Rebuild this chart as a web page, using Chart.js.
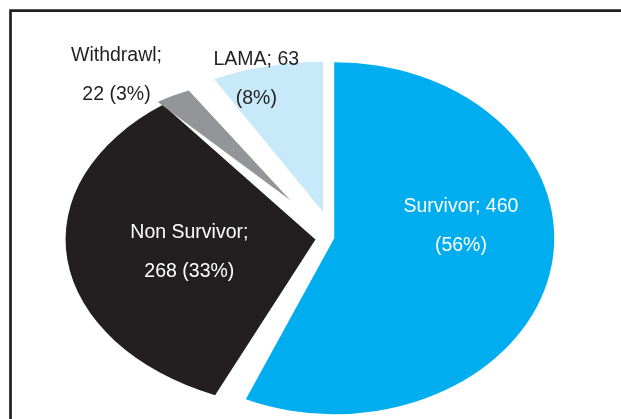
<!DOCTYPE html>
<html>
<head>
<meta charset="utf-8">
<title>Patient outcome</title>
<script src="https://cdn.jsdelivr.net/npm/chart.js@4.4.1/dist/chart.umd.min.js"></script>
<style>
    html, body { margin: 0; padding: 0; background: #fff; }
    canvas { display: block; }
</style>
</head>
<body>
<canvas id="outcome-chart" width="621" height="419"></canvas>
<script>
// --- Data ---
const categories = ['Survivor', 'Non Survivor', 'Withdrawl', 'LAMA'];
const patientCounts = [460, 268, 22, 63];
const percentLabels = ['56%', '33%', '3%', '8%'];

// --- Styling ---
const sliceColors = ['#00aeef', '#231f20', '#939598', '#c7e9f9'];
const textColors = ['#ffffff', '#ffffff', '#231f20', '#231f20'];
const breakAfterName = [false, true, true, false]; // where the label wraps
const explode = [1, 12, 45, 27];                   // px each slice is pulled out
const stretch = [1.25, 1.47, 1.75, 1.55];          // horizontal stretch per slice
const reach = [1, 0.966, 0.705, 0.852];            // radius relative to the pie radius
const labelDist = [0.58, 0.51, 1.29, 0.93];        // label distance, in slice radii
const labelTurn = [-18.6, -1.3, -5.6, -4];         // label angle nudge, degrees

const chartCenter = (chart) => {
    const a = chart.chartArea;
    return { x: (a.left + a.right) / 2, y: (a.top + a.bottom) / 2 };
};

// apex of a slice after it has been pulled out
const sliceApex = (chart, arc, i) => {
    const c = chartCenter(chart);
    const mid = (arc.startAngle + arc.endAngle) / 2;
    return {
        x: c.x + Math.cos(mid) * explode[i] * stretch[i],
        y: c.y + Math.sin(mid) * explode[i]
    };
};

// thin frame round the figure (only top and left edges are visible)
const framePlugin = {
    id: 'frame',
    beforeDraw(chart) {
        const ctx = chart.ctx;
        ctx.save();
        ctx.strokeStyle = '#231f20';
        ctx.lineWidth = 2.7;
        ctx.beginPath();
        ctx.moveTo(10.5, chart.height + 5);
        ctx.lineTo(10.5, 10.7);
        ctx.lineTo(chart.width + 5, 10.7);
        ctx.stroke();
        ctx.restore();
    }
};

// draws each arc itself, stretched and pulled out
const explodedPie = {
    id: 'explodedPie',
    beforeDatasetDraw(chart, args) {
        const ctx = chart.ctx;
        args.meta.data.forEach((arc, i) => {
            const apex = sliceApex(chart, arc, i);
            const r = arc.outerRadius;
            ctx.save();
            ctx.translate(apex.x, apex.y);
            ctx.scale(stretch[i], 1);
            ctx.translate(-arc.x, -arc.y);
            arc.outerRadius = r * reach[i];
            arc.draw(ctx);
            arc.outerRadius = r;
            ctx.restore();
        });
        return false;
    }
};

const sliceLabels = {
    id: 'sliceLabels',
    afterDatasetsDraw(chart) {
        const ctx = chart.ctx;
        const meta = chart.getDatasetMeta(0);
        ctx.save();
        ctx.font = '19.5px "Liberation Sans", Arial, sans-serif';
        ctx.textAlign = 'center';
        ctx.textBaseline = 'middle';
        meta.data.forEach((arc, i) => {
            const apex = sliceApex(chart, arc, i);
            const mid = (arc.startAngle + arc.endAngle) / 2 + labelTurn[i] * Math.PI / 180;
            const d = labelDist[i] * arc.outerRadius * reach[i];
            const lx = apex.x + Math.cos(mid) * d * stretch[i];
            const ly = apex.y + Math.sin(mid) * d;
            const lines = breakAfterName[i]
                ? [`${categories[i]};`, `${patientCounts[i]} (${percentLabels[i]})`]
                : [`${categories[i]}; ${patientCounts[i]}`, `(${percentLabels[i]})`];
            ctx.fillStyle = textColors[i];
            ctx.fillText(lines[0], lx, ly - 19.5);
            ctx.fillText(lines[1], lx, ly + 19.5);
        });
        ctx.restore();
    }
};

const ctx = document.getElementById('outcome-chart');
new Chart(ctx, {
    type: 'pie',
    data: {
        labels: categories,
        datasets: [{
            data: patientCounts,
            backgroundColor: sliceColors,
            borderWidth: 0
        }]
    },
    options: {
        responsive: false,
        animation: false,
        events: [],
        radius: 176,
        layout: { padding: { left: 45, top: 57, right: 0, bottom: 0 } },
        plugins: {
            legend: { display: false },
            tooltip: { enabled: false }
        }
    },
    plugins: [framePlugin, explodedPie, sliceLabels]
});
</script>
</body>
</html>
